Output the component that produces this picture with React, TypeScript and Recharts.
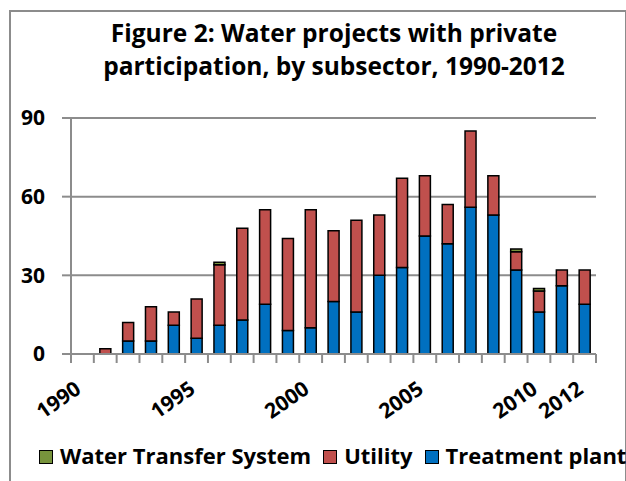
import { BarChart, Bar, XAxis, YAxis, CartesianGrid } from "recharts";

const years = [
  "1990", "1991", "1992", "1993", "1994", "1995", "1996", "1997", "1998", "1999", "2000", "2001",
  "2002", "2003", "2004", "2005", "2006", "2007", "2008", "2009", "2010", "2011", "2012",
];
const treatmentPlant = [0, 0, 5, 5, 11, 6, 11, 13, 19, 9, 10, 20, 16, 30, 33, 45, 42, 56, 53, 32, 16, 26, 19];
const utility = [0, 2, 7, 13, 5, 15, 23, 35, 36, 35, 45, 27, 35, 23, 34, 23, 15, 29, 15, 7, 8, 6, 13];
const waterTransfer = [0, 0, 0, 0, 0, 0, 1, 0, 0, 0, 0, 0, 0, 0, 0, 0, 0, 0, 0, 1, 1, 0, 0];
const labeledYears = ["1990", "1995", "2000", "2005", "2010", "2012"];
const yTicks = [0, 30, 60, 90];

const data = years.map((year, i) => ({
  year,
  treatment: treatmentPlant[i],
  utility: utility[i],
  transfer: waterTransfer[i],
}));

const FONT = "'Open Sans', sans-serif";
const GRAY = "#8c8c8c";
const W = 626;
const H = 481;
const LEFT = 71;
const RIGHT = 30;
const BAND = (W - LEFT - RIGHT) / years.length;

const COLORS = { transfer: "#77933c", utility: "#c0504d", treatment: "#0070c0" };

function YearTick({ x, y, payload, index }: any) {
  const half = BAND / 2;
  const show = labeledYears.includes(payload.value);
  return (
    <g>
      <line x1={x - half} x2={x - half} y1={y} y2={y + 9} stroke={GRAY} strokeWidth={2} />
      {index === years.length - 1 && (
        <line x1={x + half} x2={x + half} y1={y} y2={y + 9} stroke={GRAY} strokeWidth={2} />
      )}
      {show && (
        <text
          x={x}
          y={y + 38}
          transform={`rotate(-35, ${x}, ${y + 38})`}
          textAnchor="end"
          fontFamily={FONT}
          fontWeight="bold"
          fontSize={21}
          fill="#000"
        >
          {payload.value}
        </text>
      )}
    </g>
  );
}

const legendItems = [
  { name: "Water Transfer System", color: COLORS.transfer },
  { name: "Utility", color: COLORS.utility },
  { name: "Treatment plant", color: COLORS.treatment },
];

export default function App() {
  return (
    <div style={{ position: "absolute", left: 0, top: 0, width: W, height: H, background: "#fff", overflow: "hidden" }}>
      <div
        style={{
          position: "absolute",
          left: 9,
          top: 10,
          width: 614,
          height: 490,
          border: `2px solid ${GRAY}`,
        }}
      />
      <div
        style={{
          position: "absolute",
          left: 0,
          top: 16,
          width: 668,
          textAlign: "center",
          fontFamily: FONT,
          fontWeight: "bold",
          fontSize: 24.5,
          lineHeight: "33px",
          color: "#000",
        }}
      >
        Figure 2: Water projects with private
        <br />
        participation, by subsector, 1990-2012
      </div>

      <BarChart
        width={W}
        height={H}
        data={data}
        margin={{ top: 118, right: RIGHT, left: 0, bottom: 0 }}
        barSize={11}
      >
        <CartesianGrid vertical={false} stroke={GRAY} strokeWidth={2} />
        <XAxis
          dataKey="year"
          height={127}
          interval={0}
          tickSize={0}
          tickMargin={0}
          axisLine={{ stroke: GRAY, strokeWidth: 2 }}
          tickLine={false}
          tick={<YearTick />}
        />
        <YAxis
          width={LEFT}
          domain={[0, 90]}
          ticks={yTicks}
          tickSize={9}
          tickMargin={17}
          axisLine={{ stroke: GRAY, strokeWidth: 2 }}
          tickLine={{ stroke: GRAY, strokeWidth: 2 }}
          tick={{ fontFamily: FONT, fontWeight: "bold", fontSize: 21, fill: "#000" }}
        />
        <Bar dataKey="treatment" stackId="a" fill={COLORS.treatment} stroke="#000" strokeWidth={1.5} isAnimationActive={false} />
        <Bar dataKey="utility" stackId="a" fill={COLORS.utility} stroke="#000" strokeWidth={1.5} isAnimationActive={false} />
        <Bar dataKey="transfer" stackId="a" fill={COLORS.transfer} stroke="#000" strokeWidth={1.5} isAnimationActive={false} />
      </BarChart>

      <div
        style={{
          position: "absolute",
          left: 39,
          top: 440,
          display: "flex",
          alignItems: "center",
          fontFamily: FONT,
          fontWeight: "bold",
          fontSize: 22,
          lineHeight: "30px",
          color: "#000",
          whiteSpace: "nowrap",
        }}
      >
        {legendItems.map((item) => (
          <div key={item.name} style={{ display: "flex", alignItems: "center", marginRight: 12 }}>
            <span
              style={{
                display: "inline-block",
                width: 12,
                height: 12,
                background: item.color,
                border: "1.5px solid #000",
                marginRight: 7,
                position: "relative",
                top: 2,
              }}
            />
            <span>{item.name}</span>
          </div>
        ))}
      </div>
    </div>
  );
}
